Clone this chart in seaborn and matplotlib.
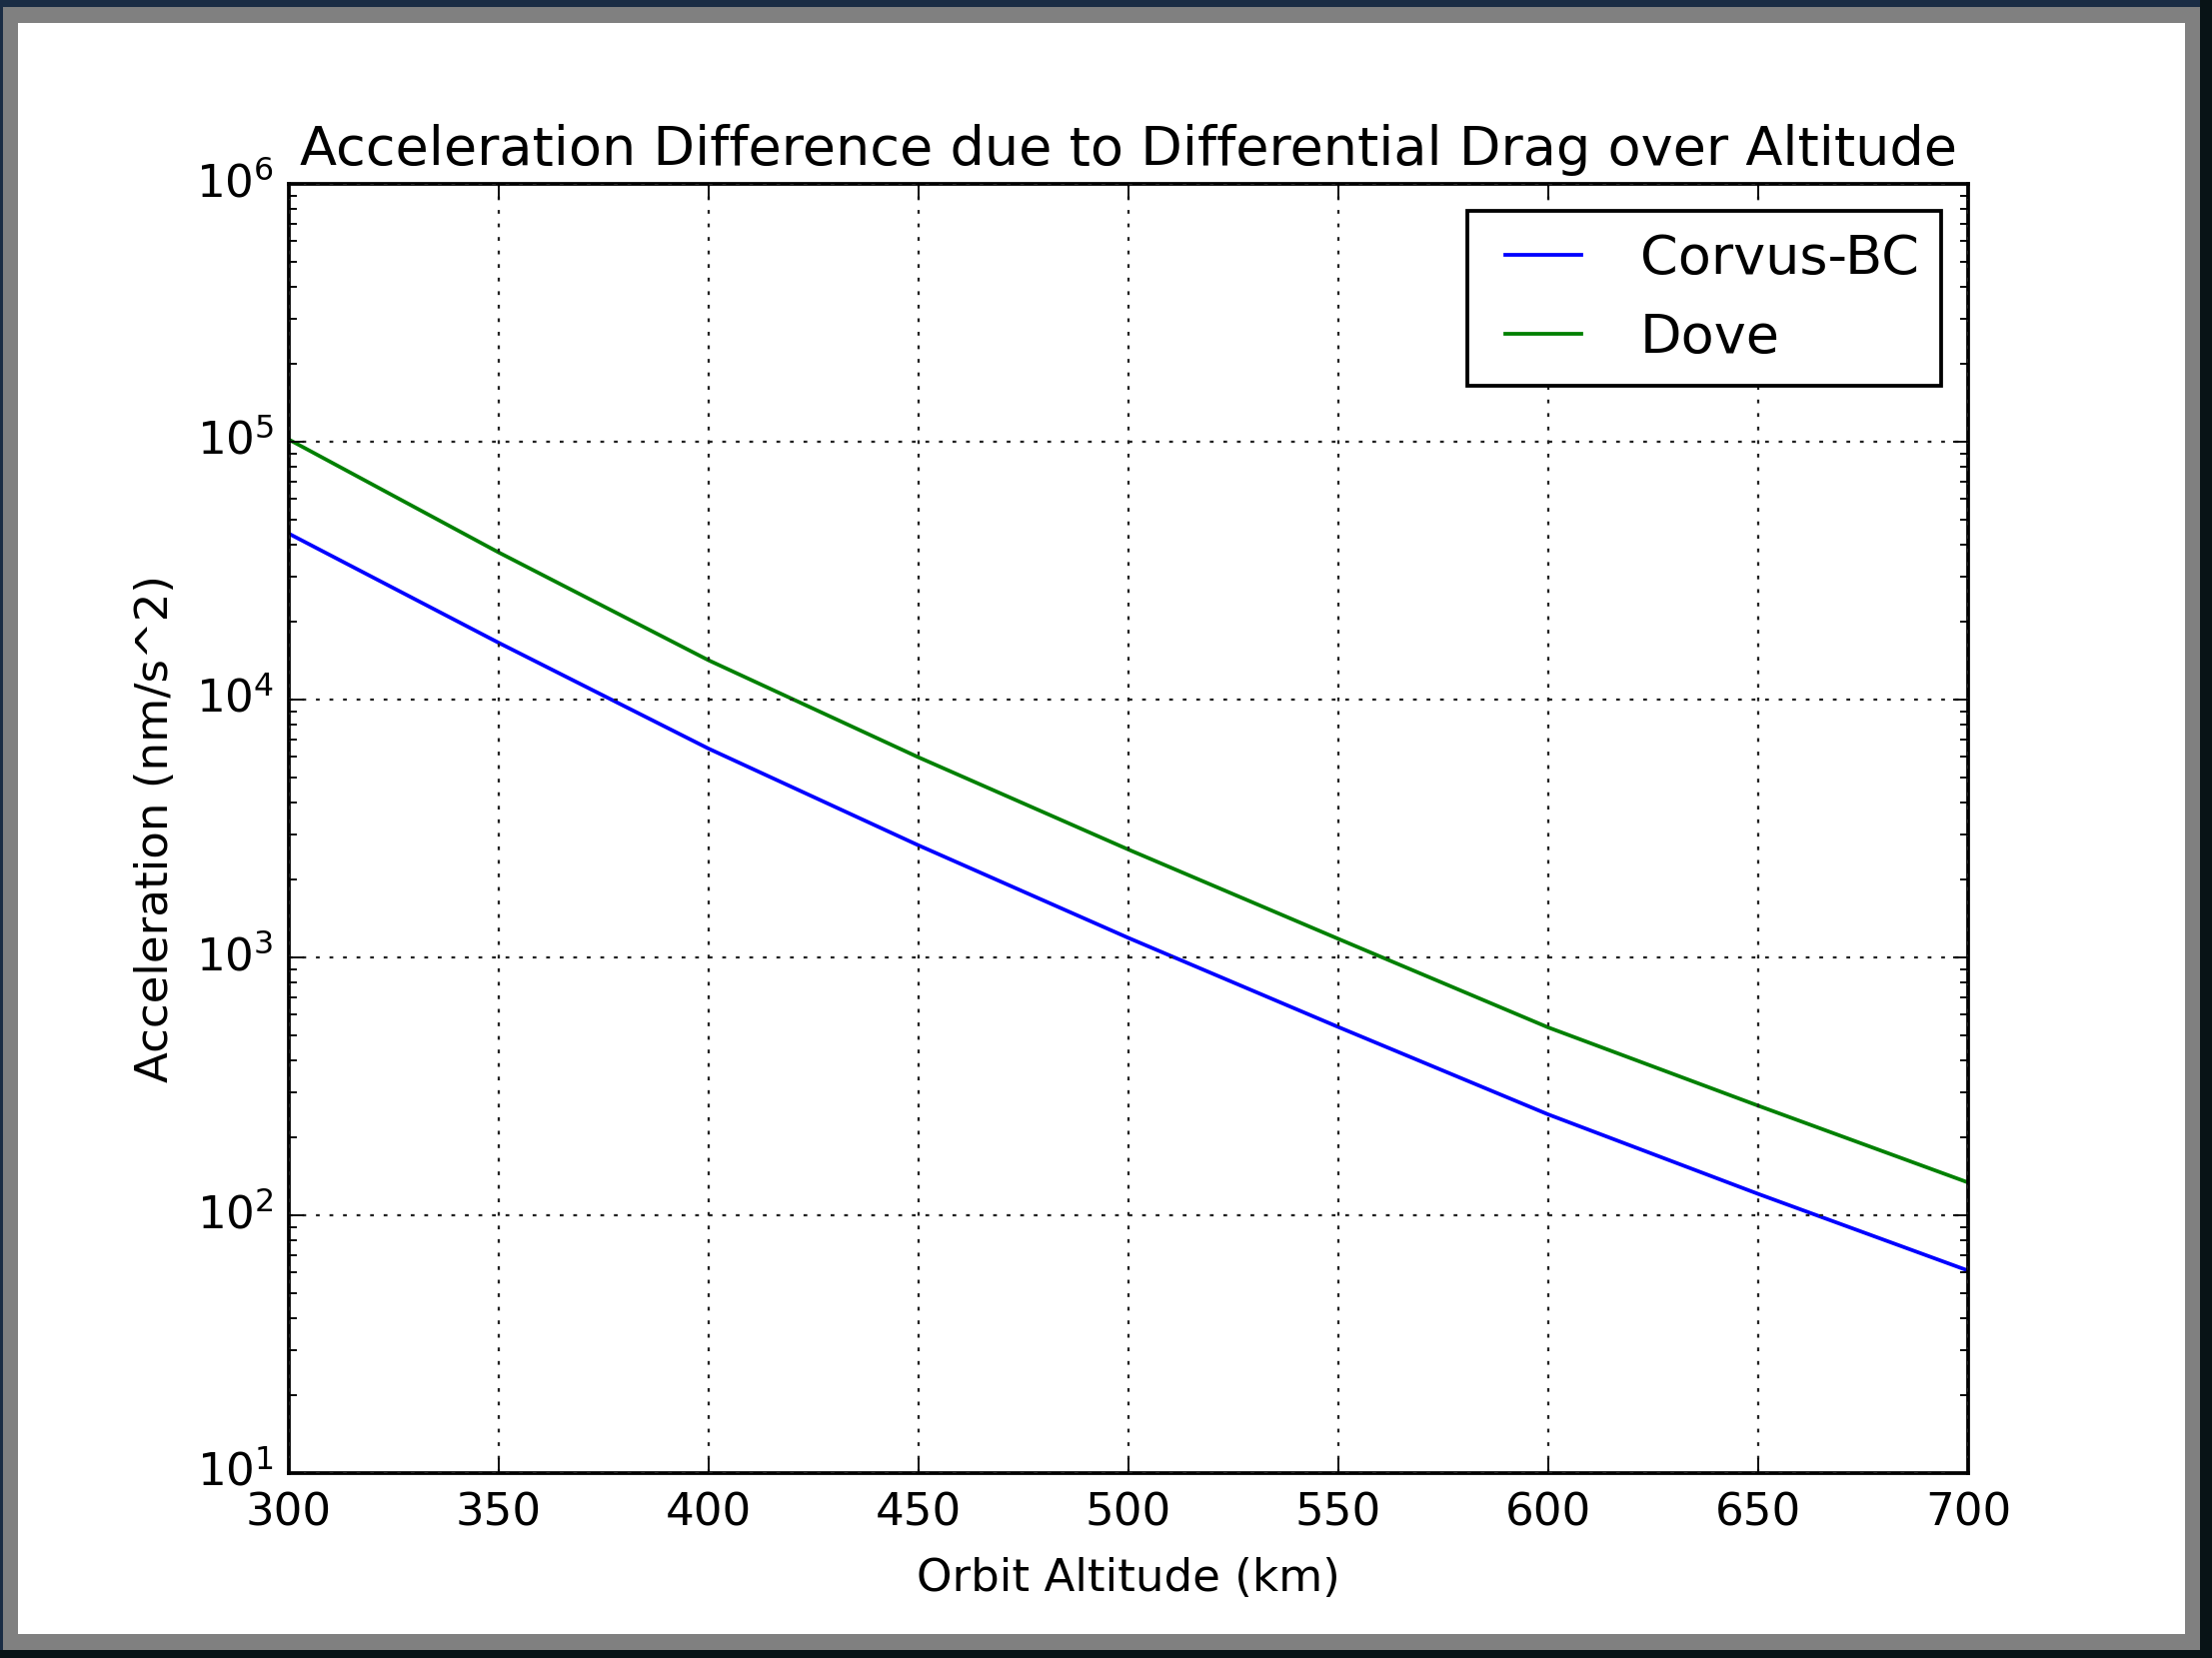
import matplotlib
matplotlib.use("Agg")
import matplotlib.pyplot as plt
from matplotlib.patches import Rectangle
import seaborn as sns
import pandas as pd

# ---- data ----
altitude_km = [300, 350, 400, 450, 500, 550, 600, 650, 700]
corvus_bc = [4.4e4, 1.66e4, 6.45e3, 2.72e3, 1.19e3, 537, 246, 121, 61]
dove = [1.02e5, 3.72e4, 1.42e4, 5.97e3, 2.62e3, 1.18e3, 535, 266, 134]
series_names = ["Corvus-BC", "Dove"]
title_text = "Acceleration Difference due to Differential Drag over Altitude"
x_label = "Orbit Altitude (km)"
y_label = "Acceleration (nm/s^2)"

df = pd.DataFrame({
    "altitude": altitude_km * 2,
    "accel": corvus_bc + dove,
    "series": [series_names[0]] * len(altitude_km) + [series_names[1]] * len(altitude_km),
})

plt.style.use("classic")
W, H, DPI = 2213, 1659, 271
fig = plt.figure(figsize=(W / DPI, H / DPI), dpi=DPI, facecolor="#1a2c44")

# screenshot frame
fig.patches.append(Rectangle((0, 0), 1, 8 / H, transform=fig.transFigure,
                             facecolor="#081316", edgecolor="none", zorder=-3))
fig.patches.append(Rectangle((2201 / W, 0), 12 / W, 1, transform=fig.transFigure,
                             facecolor="#081316", edgecolor="none", zorder=-3))
fig.patches.append(Rectangle((3 / W, 8 / H), 2198 / W, 1644 / H, transform=fig.transFigure,
                             facecolor="#808080", edgecolor="none", zorder=-2))
fig.patches.append(Rectangle((18 / W, 24 / H), 2168 / W, 1612 / H, transform=fig.transFigure,
                             facecolor="white", edgecolor="none", zorder=-1))

ax = fig.add_axes([289 / W, 185 / H, 1680 / W, 1290 / H])
sns.lineplot(data=df, x="altitude", y="accel", hue="series",
             palette=["#0000ff", "#008000"], linewidth=1.0, ax=ax, legend=False)
ax.set_yscale("log")
ax.set_xlim(300, 700)
ax.set_ylim(1e1, 1e6)
ax.grid(True, which="major", linestyle=(0, (1, 2.6)), color="#222222", linewidth=0.6)
ax.set_title(title_text, fontsize=14.4)
ax.set_xlabel(x_label, fontsize=12, labelpad=6)
ax.set_ylabel(y_label, fontsize=12)
ax.tick_params(labelsize=12)
ax.tick_params(axis="x", which="major", pad=5)
for line, name in zip(ax.get_lines(), series_names):
    line.set_label(name)
ax.legend(loc="upper right", fontsize=14.4, frameon=True, fancybox=False)

fig.savefig("out.png", dpi=DPI, facecolor=fig.get_facecolor())
